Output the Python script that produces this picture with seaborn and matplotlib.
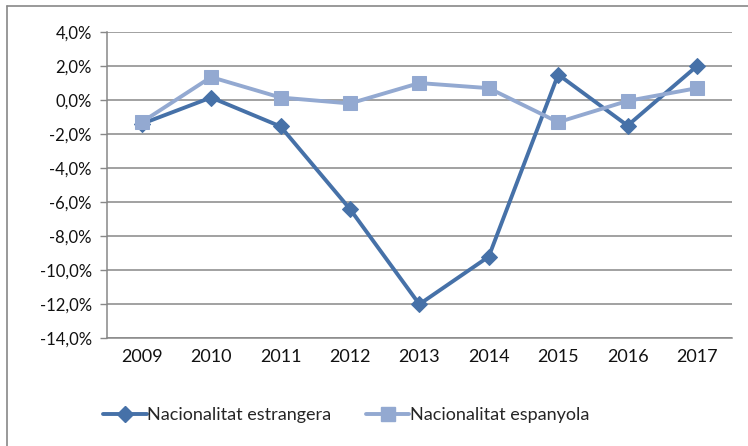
import pandas as pd
import seaborn as sns
import matplotlib.pyplot as plt
from matplotlib.ticker import FuncFormatter, FixedLocator
from matplotlib.lines import Line2D

# dades
anys = ["2009", "2010", "2011", "2012", "2013", "2014", "2015", "2016", "2017"]
estrangera = [-1.4, 0.15, -1.55, -6.4, -12.0, -9.2, 1.5, -1.5, 2.0]
espanyola = [-1.3, 1.35, 0.15, -0.2, 1.0, 0.7, -1.3, -0.05, 0.7]
series = ["Nacionalitat estrangera", "Nacionalitat espanyola"]
colors = ["#4671A8", "#93A9D1"]

df = pd.DataFrame({
    "pos": list(range(len(anys))) * 2,
    "valor": estrangera + espanyola,
    "serie": [series[0]] * len(anys) + [series[1]] * len(anys),
})

sns.set_style("white")
plt.rcParams['font.family'] = ['Lato', 'DejaVu Sans']
fs = 13

fig = plt.figure(figsize=(7.48, 4.46), dpi=100)
ax = fig.add_axes([107 / 748, 1 - 338.3 / 446, (731.7 - 107) / 748, (338.3 - 32) / 446])

for s, c, m, ms in zip(series, colors, ["D", "s"], [8, 10]):
    d = df[df["serie"] == s]
    sns.lineplot(data=d, x="pos", y="valor", ax=ax, color=c, marker=m,
                 markersize=ms, markeredgecolor=c, linewidth=2.8, legend=False)

ax.set_xlim(-0.5, len(anys) - 0.5)
ax.set_ylim(-14, 4)
ax.set_yticks(range(-14, 5, 2))
ax.yaxis.set_major_formatter(FuncFormatter(lambda v, p: f"{v:.1f}%".replace(".", ",")))
ax.set_xticks(range(len(anys)))
ax.set_xticklabels(anys)
ax.xaxis.set_minor_locator(FixedLocator([i - 0.5 for i in range(len(anys) + 1)]))
ax.tick_params(axis="x", which="major", length=0, pad=8, labelsize=fs, colors="#111111")
ax.tick_params(axis="x", which="minor", length=5, width=1, color="#888888", direction="out")
ax.tick_params(axis="y", length=5, width=1, color="#888888", direction="out", labelsize=12,
               labelcolor="#111111", left=True, pad=6)
ax.set_xlabel("")
ax.set_ylabel("")
ax.grid(axis="y", color="#888888", linewidth=1.1)
ax.set_axisbelow(True)
for side in ["top", "right"]:
    ax.spines[side].set_visible(False)
for side in ["left", "bottom"]:
    ax.spines[side].set_color("#888888")
    ax.spines[side].set_linewidth(1.1)
    ax.spines[side].set_zorder(0.5)

handles = [Line2D([], [], color=c, marker=m, markersize=ms, linewidth=2.8)
           for c, m, ms in zip(colors, ["D", "s"], [8, 10])]
fig.legend(handles, series, loc="center", bbox_to_anchor=(0.463, 1 - 415 / 446), ncol=2,
           frameon=False, fontsize=fs, handlelength=2.4, handletextpad=0.05, columnspacing=1.9)

# marc del gràfic
fig.add_artist(Line2D([7 / 748, 7 / 748], [0, 1 - 6 / 446], color="#888888", linewidth=1.2))
fig.add_artist(Line2D([7 / 748, 1], [1 - 6 / 446, 1 - 6 / 446], color="#888888", linewidth=1.2))

fig.savefig("out.png", dpi=100)
